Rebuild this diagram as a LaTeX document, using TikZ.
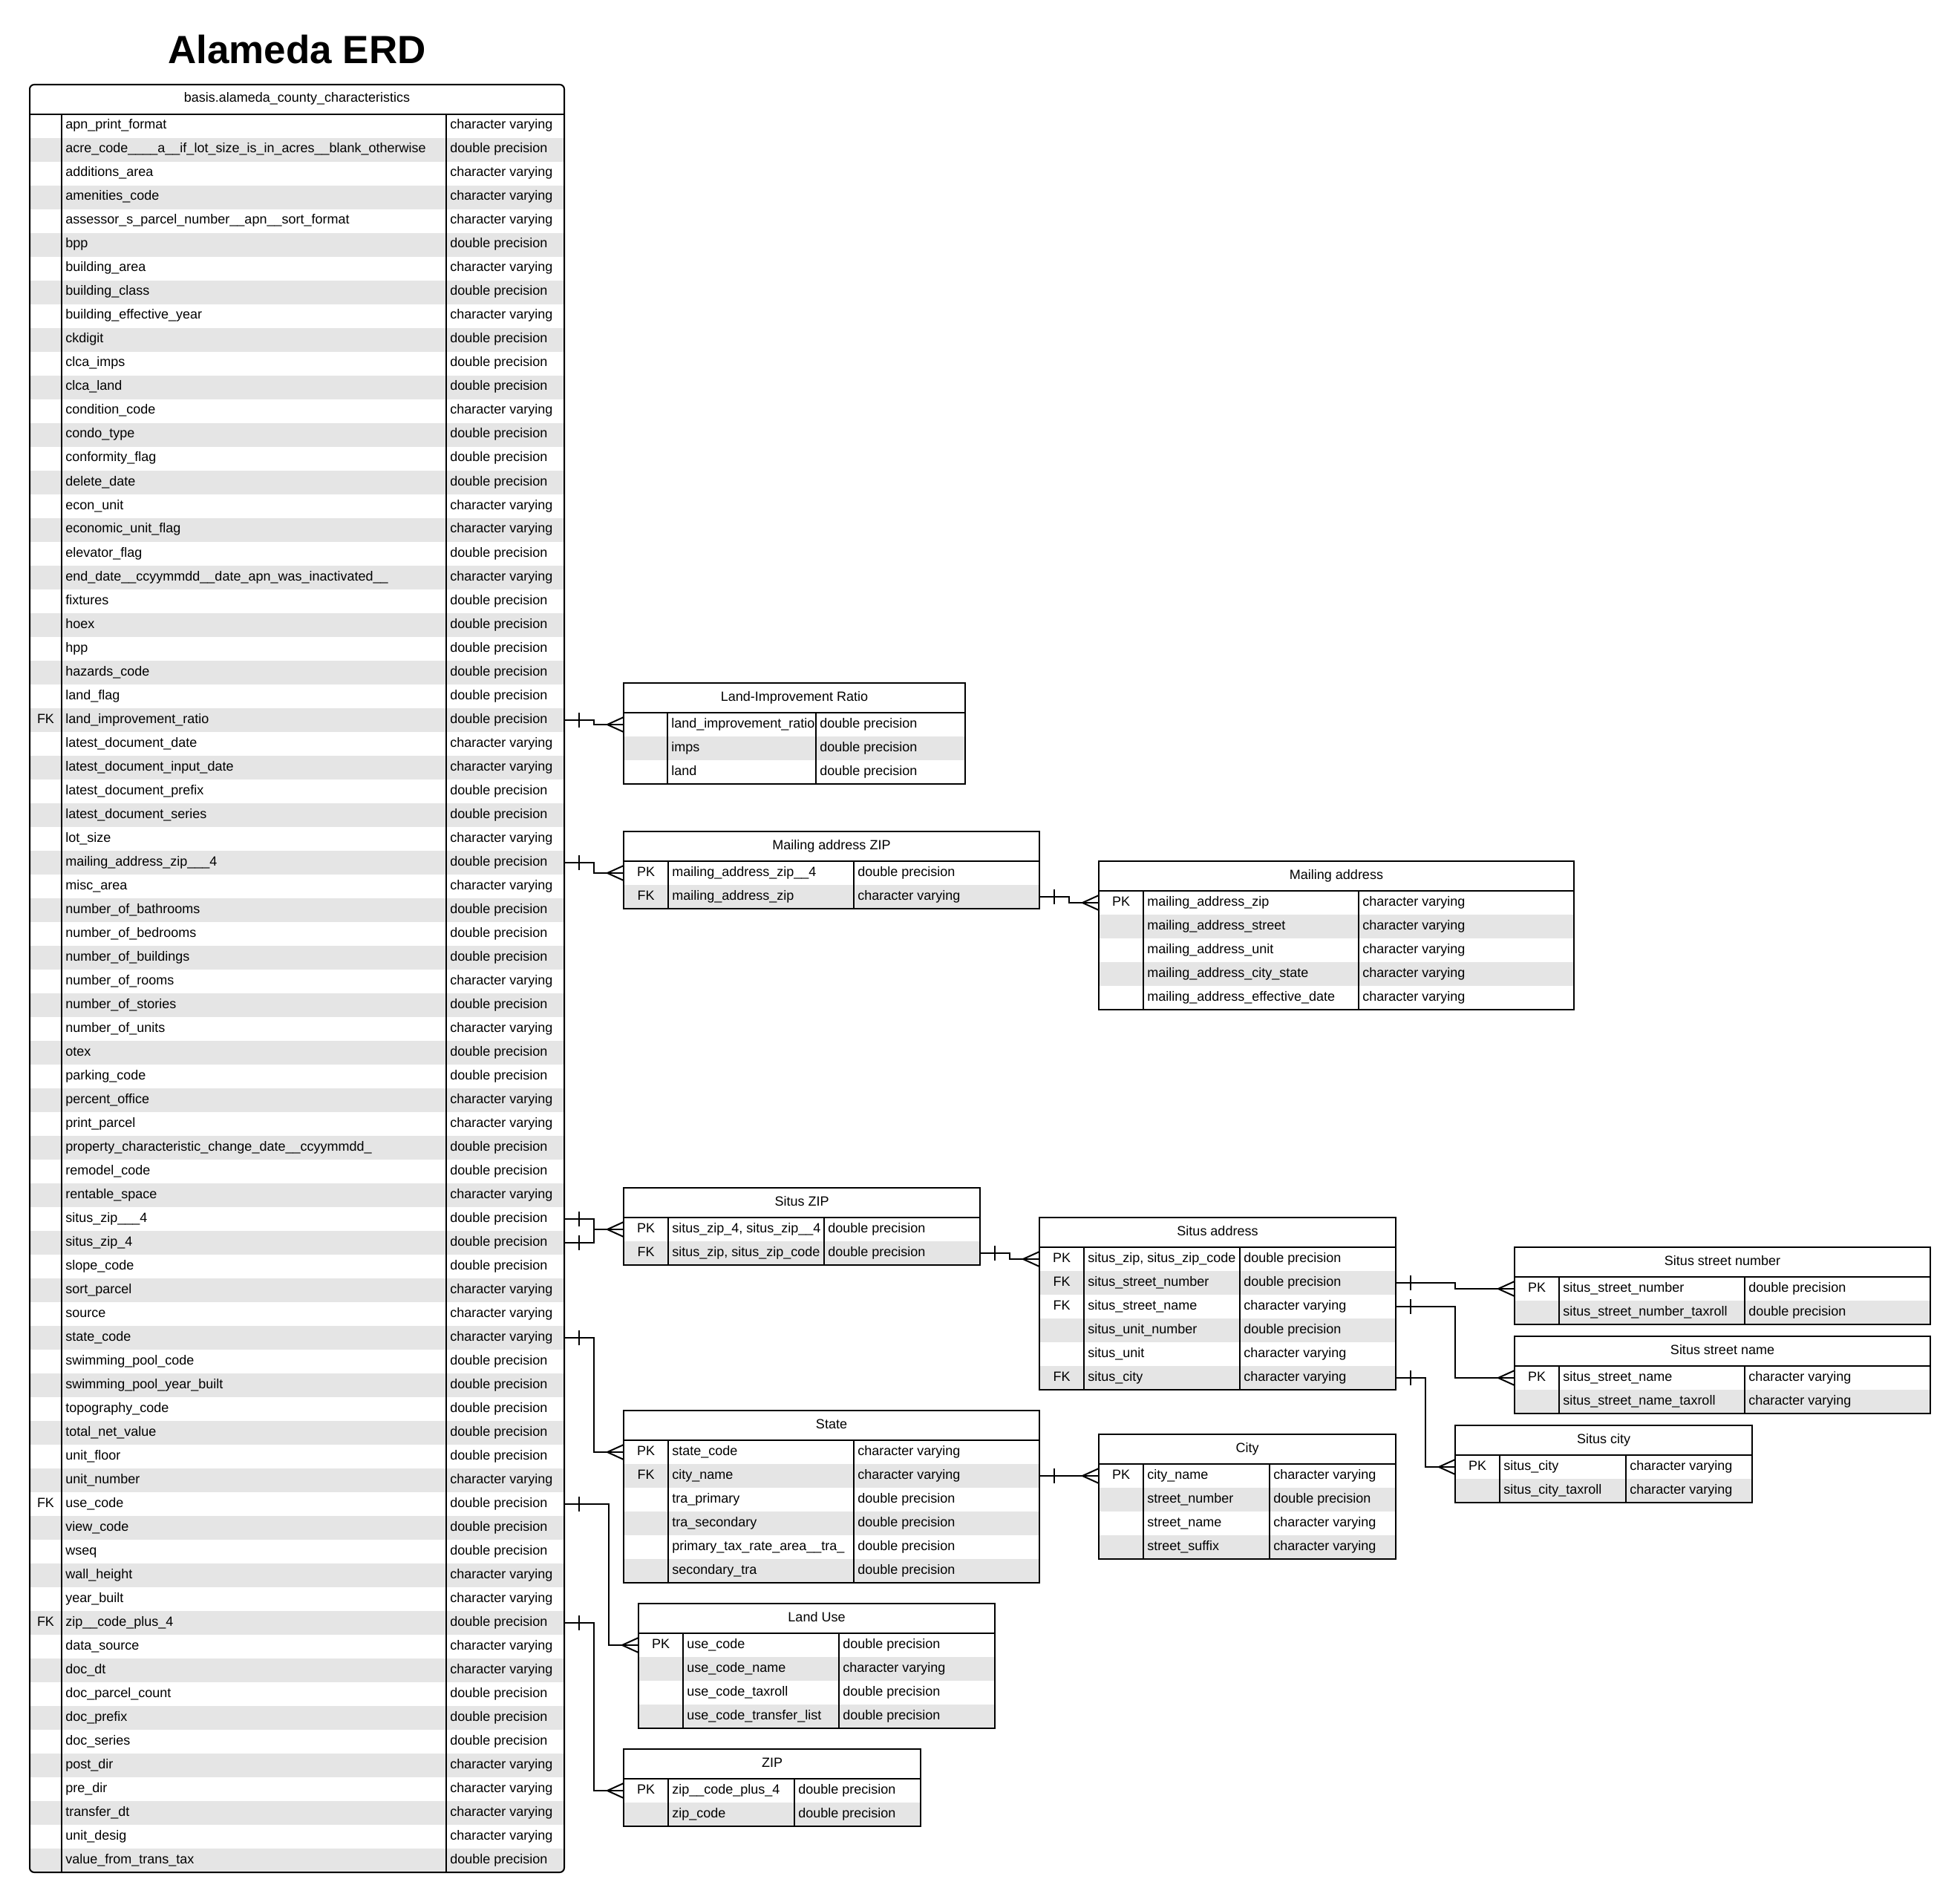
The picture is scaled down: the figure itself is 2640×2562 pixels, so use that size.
\documentclass[tikz,border=0pt]{standalone}
\usepackage{fontspec}
\setmainfont{Liberation Sans}
\usetikzlibrary{calc}
\definecolor{rowgray}{RGB}{229,229,229}
\tikzset{
  frameline/.style={line width=1pt,draw=black},
  conn/.style={line width=1pt,draw=black},
  celltext/.style={font=\fontsize{9}{11}\selectfont,inner sep=0pt,anchor=base west},
  keytext/.style={font=\fontsize{9}{11}\selectfont,inner sep=0pt,anchor=base},
  headtext/.style={font=\fontsize{9}{11}\selectfont,inner sep=0pt,anchor=base},
  titletext/.style={font=\fontsize{26.5}{30}\selectfont\bfseries,inner sep=0pt,anchor=base},
}
% id L T K D R n title
\newcommand\tbsetup[8]{%
  \def\tid{#1}\def\tL{#2}\def\tT{#3}\def\tK{#4}\def\tD{#5}\def\tR{#6}%
  \pgfmathsetmacro\tHB{#3+40}%
  \pgfmathsetmacro\tB{#3+40+32*#7}%
  \pgfmathsetmacro\tMid{(#2+#6)/2}%
  \node[headtext] (#1-h) at (\tMid,#3+24) {#8};%
}
\newcommand\trow[4]{%
  \pgfmathsetmacro\ry{\tHB+32*(#1-1)}%
  \pgfmathsetmacro\rc{\ry+16}%
  \pgfmathtruncatemacro\rpar{mod(#1,2)}%
  \ifnum\rpar=0 \fill[rowgray] (\tL,\ry) rectangle (\tR,\ry+32);\fi
  \coordinate (\tid-#1-W) at (\tL,\rc);%
  \coordinate (\tid-#1-E) at (\tR,\rc);%
  \node[keytext] (\tid-#1-k) at ({(\tL+\tK)/2},\rc+4) {#2};%
  \node[celltext] (\tid-#1) at (\tK+5,\rc+4) {#3};%
  \node[celltext] (\tid-#1-t) at (\tD+5,\rc+4) {#4};%
}
\newcommand\tbframe[1][]{%
  \draw[frameline] (\tL,\tHB) -- (\tR,\tHB);
  \draw[frameline] (\tK,\tHB) -- (\tK,\tB);
  \draw[frameline] (\tD,\tHB) -- (\tD,\tB);
  \draw[frameline,#1] (\tL,\tT) rectangle (\tR,\tB);
}
\newcommand\onebar[1]{\draw[conn] ($(#1)+(20,-10)$) -- ++(0,20);}
\newcommand\crow[1]{\draw[conn] ($(#1)+(0,-10)$) -- ++(-22,10) -- ++(22,10);}
\begin{document}
\catcode`\_=12
\begin{tikzpicture}[x=0.5pt,y=-0.5pt]
\fill[white] (0,0) rectangle (2640,2562);
\useasboundingbox (0,0) rectangle (2640,2562);

\node[titletext] (title) at (400,86) {Alameda ERD};

% ---------------- main table
\tbsetup{main}{40}{114}{83}{601}{760}{74}{basis.alameda_county_characteristics}
\begin{scope}
\clip[rounded corners=3pt] (40,114) rectangle (760,2522);
\trow{1}{}{apn_print_format}{character varying}
\trow{2}{}{acre_code____a__if_lot_size_is_in_acres__blank_otherwise}{double precision}
\trow{3}{}{additions_area}{character varying}
\trow{4}{}{amenities_code}{character varying}
\trow{5}{}{assessor_s_parcel_number__apn__sort_format}{character varying}
\trow{6}{}{bpp}{double precision}
\trow{7}{}{building_area}{character varying}
\trow{8}{}{building_class}{double precision}
\trow{9}{}{building_effective_year}{character varying}
\trow{10}{}{ckdigit}{double precision}
\trow{11}{}{clca_imps}{double precision}
\trow{12}{}{clca_land}{double precision}
\trow{13}{}{condition_code}{character varying}
\trow{14}{}{condo_type}{double precision}
\trow{15}{}{conformity_flag}{double precision}
\trow{16}{}{delete_date}{double precision}
\trow{17}{}{econ_unit}{character varying}
\trow{18}{}{economic_unit_flag}{character varying}
\trow{19}{}{elevator_flag}{double precision}
\trow{20}{}{end_date__ccyymmdd__date_apn_was_inactivated__}{character varying}
\trow{21}{}{fixtures}{double precision}
\trow{22}{}{hoex}{double precision}
\trow{23}{}{hpp}{double precision}
\trow{24}{}{hazards_code}{double precision}
\trow{25}{}{land_flag}{double precision}
\trow{26}{FK}{land_improvement_ratio}{double precision}
\trow{27}{}{latest_document_date}{character varying}
\trow{28}{}{latest_document_input_date}{character varying}
\trow{29}{}{latest_document_prefix}{double precision}
\trow{30}{}{latest_document_series}{double precision}
\trow{31}{}{lot_size}{character varying}
\trow{32}{}{mailing_address_zip___4}{double precision}
\trow{33}{}{misc_area}{character varying}
\trow{34}{}{number_of_bathrooms}{double precision}
\trow{35}{}{number_of_bedrooms}{double precision}
\trow{36}{}{number_of_buildings}{double precision}
\trow{37}{}{number_of_rooms}{character varying}
\trow{38}{}{number_of_stories}{double precision}
\trow{39}{}{number_of_units}{character varying}
\trow{40}{}{otex}{double precision}
\trow{41}{}{parking_code}{double precision}
\trow{42}{}{percent_office}{character varying}
\trow{43}{}{print_parcel}{character varying}
\trow{44}{}{property_characteristic_change_date__ccyymmdd_}{double precision}
\trow{45}{}{remodel_code}{double precision}
\trow{46}{}{rentable_space}{character varying}
\trow{47}{}{situs_zip___4}{double precision}
\trow{48}{}{situs_zip_4}{double precision}
\trow{49}{}{slope_code}{double precision}
\trow{50}{}{sort_parcel}{character varying}
\trow{51}{}{source}{character varying}
\trow{52}{}{state_code}{character varying}
\trow{53}{}{swimming_pool_code}{double precision}
\trow{54}{}{swimming_pool_year_built}{double precision}
\trow{55}{}{topography_code}{double precision}
\trow{56}{}{total_net_value}{double precision}
\trow{57}{}{unit_floor}{double precision}
\trow{58}{}{unit_number}{character varying}
\trow{59}{FK}{use_code}{double precision}
\trow{60}{}{view_code}{double precision}
\trow{61}{}{wseq}{double precision}
\trow{62}{}{wall_height}{character varying}
\trow{63}{}{year_built}{character varying}
\trow{64}{FK}{zip__code_plus_4}{double precision}
\trow{65}{}{data_source}{character varying}
\trow{66}{}{doc_dt}{character varying}
\trow{67}{}{doc_parcel_count}{double precision}
\trow{68}{}{doc_prefix}{double precision}
\trow{69}{}{doc_series}{double precision}
\trow{70}{}{post_dir}{character varying}
\trow{71}{}{pre_dir}{character varying}
\trow{72}{}{transfer_dt}{character varying}
\trow{73}{}{unit_desig}{character varying}
\trow{74}{}{value_from_trans_tax}{double precision}
\end{scope}
\tbframe[rounded corners=3pt]

% ---------------- Land-Improvement Ratio
\tbsetup{lir}{840}{920}{899}{1099}{1300}{3}{Land-Improvement Ratio}
\trow{1}{}{land_improvement_ratio}{double precision}
\trow{2}{}{imps}{double precision}
\trow{3}{}{land}{double precision}
\tbframe

% ---------------- Mailing address ZIP
\tbsetup{maz}{840}{1120}{900}{1150}{1400}{2}{Mailing address ZIP}
\trow{1}{PK}{mailing_address_zip__4}{double precision}
\trow{2}{FK}{mailing_address_zip}{character varying}
\tbframe

% ---------------- Mailing address
\tbsetup{ma}{1480}{1160}{1540}{1830}{2120}{5}{Mailing address}
\trow{1}{PK}{mailing_address_zip}{character varying}
\trow{2}{}{mailing_address_street}{character varying}
\trow{3}{}{mailing_address_unit}{character varying}
\trow{4}{}{mailing_address_city_state}{character varying}
\trow{5}{}{mailing_address_effective_date}{character varying}
\tbframe

% ---------------- Situs ZIP
\tbsetup{sz}{840}{1600}{900}{1110}{1320}{2}{Situs ZIP}
\trow{1}{PK}{situs_zip_4, situs_zip__4}{double precision}
\trow{2}{FK}{situs_zip, situs_zip_code}{double precision}
\tbframe

% ---------------- Situs address
\tbsetup{sa}{1400}{1640}{1460}{1670}{1880}{6}{Situs address}
\trow{1}{PK}{situs_zip, situs_zip_code}{double precision}
\trow{2}{FK}{situs_street_number}{double precision}
\trow{3}{FK}{situs_street_name}{character varying}
\trow{4}{}{situs_unit_number}{double precision}
\trow{5}{}{situs_unit}{character varying}
\trow{6}{FK}{situs_city}{character varying}
\tbframe

% ---------------- Situs street number
\tbsetup{ssnum}{2040}{1680}{2100}{2350}{2600}{2}{Situs street number}
\trow{1}{PK}{situs_street_number}{double precision}
\trow{2}{}{situs_street_number_taxroll}{double precision}
\tbframe

% ---------------- Situs street name
\tbsetup{ssnam}{2040}{1800}{2100}{2350}{2600}{2}{Situs street name}
\trow{1}{PK}{situs_street_name}{character varying}
\trow{2}{}{situs_street_name_taxroll}{character varying}
\tbframe

% ---------------- Situs city
\tbsetup{scity}{1960}{1920}{2020}{2190}{2360}{2}{Situs city}
\trow{1}{PK}{situs_city}{character varying}
\trow{2}{}{situs_city_taxroll}{character varying}
\tbframe

% ---------------- State
\tbsetup{st}{840}{1900}{900}{1150}{1400}{6}{State}
\trow{1}{PK}{state_code}{character varying}
\trow{2}{FK}{city_name}{character varying}
\trow{3}{}{tra_primary}{double precision}
\trow{4}{}{tra_secondary}{double precision}
\trow{5}{}{primary_tax_rate_area__tra_}{double precision}
\trow{6}{}{secondary_tra}{double precision}
\tbframe

% ---------------- City
\tbsetup{city}{1480}{1932}{1540}{1710}{1880}{4}{City}
\trow{1}{PK}{city_name}{character varying}
\trow{2}{}{street_number}{double precision}
\trow{3}{}{street_name}{character varying}
\trow{4}{}{street_suffix}{character varying}
\tbframe

% ---------------- Land Use
\tbsetup{lu}{860}{2160}{920}{1130}{1340}{4}{Land Use}
\trow{1}{PK}{use_code}{double precision}
\trow{2}{}{use_code_name}{character varying}
\trow{3}{}{use_code_taxroll}{double precision}
\trow{4}{}{use_code_transfer_list}{double precision}
\tbframe

% ---------------- ZIP
\tbsetup{zip}{840}{2356}{900}{1070}{1240}{2}{ZIP}
\trow{1}{PK}{zip__code_plus_4}{double precision}
\trow{2}{}{zip_code}{double precision}
\tbframe

% ---------------- connectors
\draw[conn] (main-26-E) -- ++(40,0) |- (lir-1-W);
\onebar{main-26-E} \crow{lir-1-W}
\draw[conn] (main-32-E) -- ++(40,0) |- (maz-1-W);
\onebar{main-32-E} \crow{maz-1-W}
\draw[conn] (maz-2-E) -- ++(40,0) |- (ma-1-W);
\onebar{maz-2-E} \crow{ma-1-W}
\draw[conn] (main-47-E) -- ++(40,0) |- (sz-1-W);
\draw[conn] (main-48-E) -- ++(40,0) |- (sz-1-W);
\onebar{main-47-E} \onebar{main-48-E} \crow{sz-1-W}
\draw[conn] (sz-2-E) -- ++(40,0) |- (sa-1-W);
\onebar{sz-2-E} \crow{sa-1-W}
\draw[conn] (sa-2-E) -- ++(80,0) |- (ssnum-1-W);
\onebar{sa-2-E} \crow{ssnum-1-W}
\draw[conn] (sa-3-E) -- ++(80,0) |- (ssnam-1-W);
\onebar{sa-3-E} \crow{ssnam-1-W}
\draw[conn] (sa-6-E) -- ++(40,0) |- (scity-1-W);
\onebar{sa-6-E} \crow{scity-1-W}
\draw[conn] (main-52-E) -- ++(40,0) |- (st-1-W);
\onebar{main-52-E} \crow{st-1-W}
\draw[conn] (main-59-E) -- ++(60,0) |- (lu-1-W);
\onebar{main-59-E} \crow{lu-1-W}
\draw[conn] (main-64-E) -- ++(40,0) |- (zip-1-W);
\onebar{main-64-E} \crow{zip-1-W}
\draw[conn] (st-2-E) -- (city-1-W);
\onebar{st-2-E} \crow{city-1-W}
\end{tikzpicture}
\end{document}
